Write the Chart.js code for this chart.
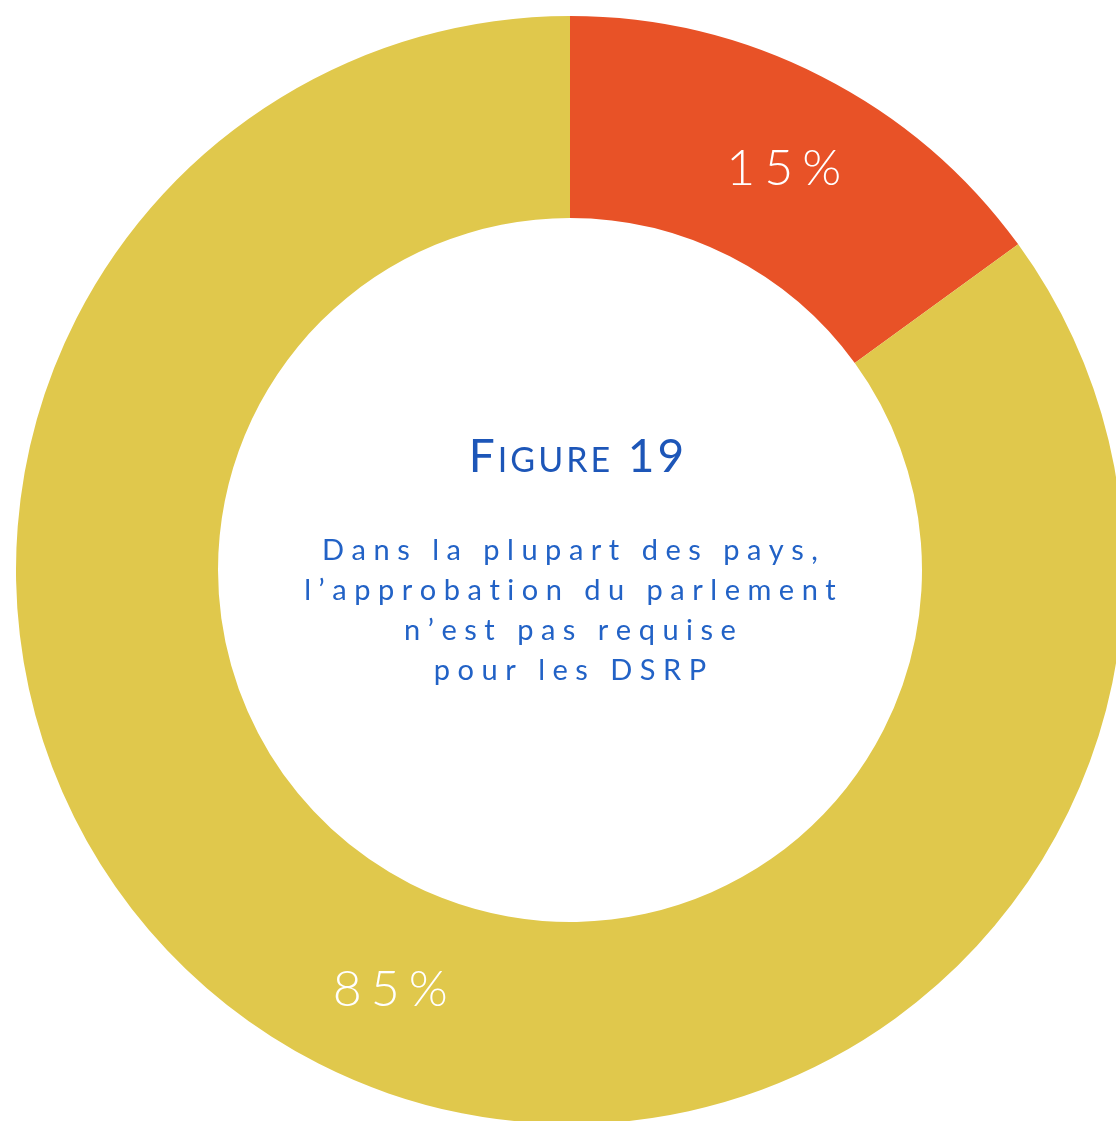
<!DOCTYPE html>
<html lang="fr">
<head>
<meta charset="UTF-8" />
<title>Figure 19</title>
<script src="https://cdn.jsdelivr.net/npm/chart.js"></script>
<style>
  html, body {
    margin: 0;
    padding: 0;
    background: #fff;
    overflow: hidden;
    width: 1116px;
    height: 1121px;
  }
  #wrap {
    position: absolute; /* the ring runs off the right and bottom edges */
    left: 16px;
    top: 16px;
    width: 1108px;
    height: 1108px;
  }
</style>
</head>
<body>
<div id="wrap"><canvas id="donut" width="1108" height="1108"></canvas></div>
<script>
// data
const categories = ["Approbation requise", "Approbation non requise"];
const shares = [15, 85];
const shareLabels = ["15%", "85%"];
const sliceColors = ["#E85227", "#E0C84C"];

// center text
const titleParts = ["F", "IGURE", " 19"];
const captionLines = [
  "Dans la plupart des pays,",
  "l’approbation du parlement",
  "n’est pas requise",
  "pour les DSRP"
];

const labelNudge = [[8, 1], [26, 14]]; // slice label offsets from arc middle

// draw text one char at a time with extra spacing, centered on x
function spacedText(ctx, text, x, y, spacing) {
  const chars = Array.from(text);
  let total = 0;
  chars.forEach(c => total += ctx.measureText(c).width);
  total += spacing * (chars.length - 1);
  let cx = x - total / 2;
  ctx.textAlign = "left";
  chars.forEach(c => {
    ctx.fillText(c, cx, y);
    cx += ctx.measureText(c).width + spacing;
  });
  return total;
}

const textPlugin = {
  id: "donutText",
  afterDraw(chart) {
    const ctx = chart.ctx;
    const arcs = chart.getDatasetMeta(0).data;
    ctx.save();
    ctx.textBaseline = "alphabetic";

    // percentage labels in the ring
    ctx.fillStyle = "#fff";
    ctx.font = "300 50px Lato";
    arcs.forEach((arc, i) => {
      const p = arc.tooltipPosition();
      spacedText(ctx, shareLabels[i], p.x + labelNudge[i][0], p.y + labelNudge[i][1] + 18, 9);
    });

    const cx = arcs[0].x;
    const cy = arcs[0].y;

    // title "FIGURE 19" in small caps
    ctx.fillStyle = "#1D56B8";
    const big = "400 46px Lato";
    const small = "400 34px Lato";
    const sp = 3;
    const widths = titleParts.map((t, i) => {
      ctx.font = i === 1 ? small : big;
      let w = 0;
      Array.from(t).forEach(c => w += ctx.measureText(c).width + sp);
      return w;
    });
    let x = cx + 8 - widths.reduce((a, b) => a + b, 0) / 2;
    const ty = cy - 98;
    titleParts.forEach((t, i) => {
      ctx.font = i === 1 ? small : big;
      Array.from(t).forEach(c => {
        ctx.fillText(c, x, ty);
        x += ctx.measureText(c).width + sp;
      });
    });

    // caption
    ctx.fillStyle = "#2262C6";
    ctx.font = "400 29px Lato";
    captionLines.forEach((line, i) => {
      spacedText(ctx, line, cx, cy - 10 + i * 40, 7.5);
    });
    ctx.restore();
  }
};

new Chart(document.getElementById("donut"), {
  type: "doughnut",
  data: {
    labels: categories,
    datasets: [{
      data: shares,
      backgroundColor: sliceColors,
      borderWidth: 0
    }]
  },
  options: {
    responsive: false,
    devicePixelRatio: 1,
    animation: false,
    cutout: 352,
    layout: { padding: 0 },
    plugins: {
      legend: { display: false },
      tooltip: { enabled: false }
    }
  },
  plugins: [textPlugin]
});
</script>
</body>
</html>
